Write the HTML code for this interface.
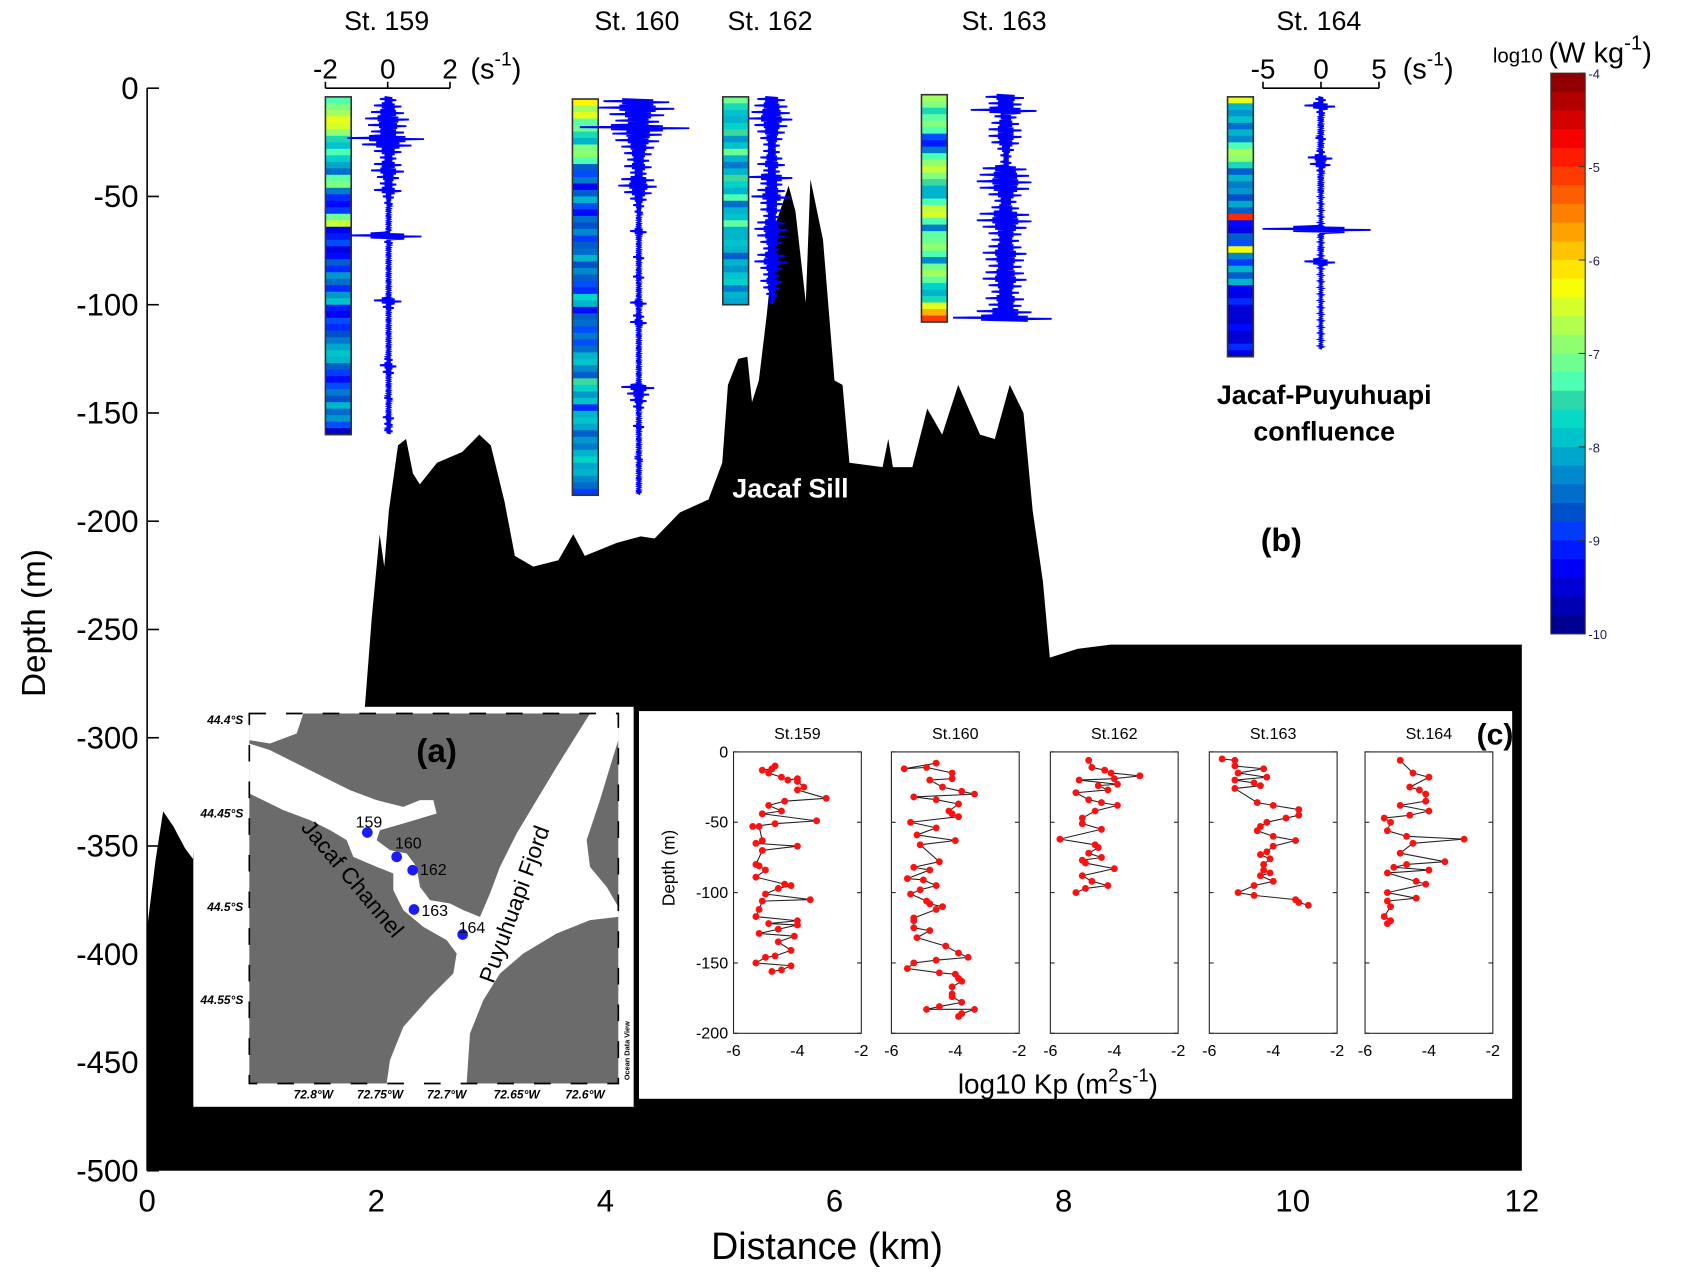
<!DOCTYPE html>
<html><head><meta charset="utf-8"><style>
html,body{margin:0;padding:0;background:#fff;}
svg{display:block;font-family:"Liberation Sans",Arial,sans-serif;}
</style></head><body>
<svg id="fig" width="1684" height="1274" viewBox="0 0 1568 1186" xmlns="http://www.w3.org/2000/svg">
<g id="bathy"></g>
<g id="mainaxes"></g>
<g id="profiles"></g>
<g id="cbar"></g>
<text x="736" y="463" font-size="25" font-weight="bold" fill="#fff" text-anchor="middle">Jacaf Sill</text>
<text x="1233" y="376" font-size="25" font-weight="bold" text-anchor="middle">Jacaf-Puyuhuapi</text>
<text x="1233" y="410" font-size="25" font-weight="bold" text-anchor="middle">confluence</text>
<text x="1193" y="513" font-size="30" font-weight="bold" text-anchor="middle">(b)</text>
<g id="inset" transform="matrix(0.31037,0,0,0.31037,176.9,651.8)">
 <rect x="10" y="20" width="1321" height="1200" fill="#fff"/>
 <rect x="178" y="40" width="1107" height="1110" fill="#6b6b6b"/>
 <path fill="#fff" d="M178,280 L280,330 360,360 420,390 470,420 490,470 560,500 610,520 610,570 640,630 700,680 770,720 800,760 790,820 720,890 640,980 600,1080 590,1150 830,1150 840,1000 880,900 930,820 1000,760 1100,700 1200,660 1285,650 1285,620 1250,560 1200,500 1190,420 1230,300 1260,200 1285,120 1285,40 1200,40 1150,120 1100,200 1040,300 980,400 930,500 900,580 870,650 820,630 780,610 720,600 690,560 680,500 650,460 600,450 560,420 570,390 640,370 740,340 730,300 690,300 640,320 560,300 480,270 400,230 320,190 240,150 178,130 Z"/>
 <path fill="#fff" d="M178,40 L340,40 320,100 240,130 178,120 Z"/>
 <rect x="178" y="40" width="1107" height="1110" fill="none" stroke="#000" stroke-width="5" stroke-dasharray="50,60"/>
 <g font-size="36" font-weight="bold" font-style="italic" text-anchor="end">
  <text x="160" y="72">44.4°S</text>
  <text x="160" y="352">44.45°S</text>
  <text x="160" y="632">44.5°S</text>
  <text x="160" y="912">44.55°S</text>
 </g>
 <g font-size="36" font-weight="bold" font-style="italic" text-anchor="middle">
  <text x="370" y="1195">72.8°W</text>
  <text x="570" y="1195">72.75°W</text>
  <text x="770" y="1195">72.7°W</text>
  <text x="980" y="1195">72.65°W</text>
  <text x="1185" y="1195">72.6°W</text>
 </g>
 <text x="0" y="0" font-size="22" font-weight="bold" transform="translate(1318,1140) rotate(-90)">Ocean Data View</text>
 <text x="740" y="185" font-size="100" font-weight="bold" text-anchor="middle">(a)</text>
 <text font-size="68" text-anchor="middle" transform="translate(470,550) rotate(50)">Jacaf Channel</text>
 <text font-size="68" text-anchor="middle" transform="translate(995,620) rotate(-70)">Puyuhuapi Fjord</text>
 <g id="mapstations"></g>
</g>
<g id="panelc"></g>
</svg>
<script>
// ===== data =====
const bathyKm =    [0,0.075,0.14,0.23,0.33,0.40,0.45,1.88,1.90,1.96,2.03,2.07,2.11,2.19,2.26,2.32,2.38,2.53,2.75,2.90,3.00,3.12,3.21,3.37,3.59,3.72,3.82,4.10,4.31,4.43,4.65,4.90,5.02,5.07,5.16,5.24,5.28,5.34,5.41,5.49,5.60,5.66,5.75,5.79,5.90,6.00,6.07,6.13,6.42,6.47,6.51,6.68,6.81,6.94,7.08,7.27,7.40,7.53,7.65,7.73,7.82,7.88,8.12,8.41,12];
const bathyDepth = [-388,-356,-334,-341,-351,-356,-300,-300,-286,-245,-206,-221,-195,-165,-162,-178,-183,-173,-168,-160,-165,-191,-216,-221,-218,-206,-216,-210,-207,-208,-196,-190,-173,-137,-125,-124,-145,-135,-104,-62,-45,-57,-99,-42,-70,-135,-137,-173,-175,-162,-175,-175,-148,-160,-137,-160,-162,-137,-150,-195,-228,-263,-259,-257,-257];
const xTicks = [0,2,4,6,8,10,12];
const yTicks = [0,-50,-100,-150,-200,-250,-300,-350,-400,-450,-500];

const stationNames = ["St. 159","St. 160","St. 162","St. 163","St. 164"];
const epsTop = [-4,-5,-4,-3,-4];
const binM = 3;
const eps159 = [-7.3,-7.0,-6.8,-6.4,-6.5,-6.9,-7.6,-7.9,-7.3,-7.8,-8.1,-8.5,-7.2,-7.0,-8.4,-9.0,-9.2,-8.9,-7.1,-6.6,-9.3,-9.1,-8.8,-9.4,-9.2,-8.6,-9.0,-8.2,-8.5,-9.0,-8.2,-7.9,-9.1,-9.3,-8.8,-9.0,-8.7,-8.4,-8.1,-7.9,-8.0,-8.6,-8.9,-9.2,-8.8,-8.4,-8.7,-8.0,-8.5,-8.2,-8.8,-9.6];
const eps160 = [-6.2,-6.8,-6.4,-7.2,-7.1,-7.6,-8.0,-7.0,-6.9,-7.3,-8.6,-8.8,-8.4,-9.3,-8.6,-8.0,-8.8,-9.2,-8.5,-8.7,-8.3,-8.9,-8.6,-8.5,-8.0,-8.7,-8.3,-8.6,-8.8,-9.0,-7.8,-8.0,-9.2,-8.6,-8.5,-8.8,-8.4,-8.8,-8.5,-8.0,-7.9,-8.3,-8.6,-7.4,-7.8,-8.2,-7.9,-9.0,-8.0,-7.9,-8.1,-8.6,-8.2,-8.4,-8.0,-7.8,-8.1,-8.0,-8.3,-8.5,-8.9];
const eps162 = [-7.1,-7.6,-7.9,-8.0,-7.8,-7.4,-8.2,-7.9,-7.1,-8.0,-8.4,-8.0,-7.4,-7.8,-8.0,-7.3,-8.5,-8.0,-7.9,-7.2,-8.0,-8.0,-7.9,-8.0,-8.6,-8.0,-8.2,-7.9,-7.8,-8.4,-8.0,-8.1];
const eps163 = [-6.8,-7.0,-7.6,-7.2,-7.0,-7.3,-8.8,-9.1,-8.4,-7.3,-6.9,-6.6,-7.0,-7.4,-8.0,-8.0,-7.3,-6.6,-6.5,-7.3,-8.4,-7.2,-7.1,-6.9,-7.3,-8.3,-7.1,-6.8,-7.2,-7.8,-8.0,-7.6,-6.4,-5.8,-5.1];
const eps164 = [-6.4,-8.0,-8.2,-7.9,-8.5,-8.0,-8.3,-7.3,-6.8,-6.9,-7.6,-8.6,-8.0,-8.4,-8.2,-8.7,-8.1,-8.6,-5.0,-9.2,-9.4,-8.6,-8.8,-6.3,-8.3,-8.9,-8.0,-8.6,-8.0,-9.3,-9.4,-9.0,-9.5,-9.5,-9.5,-9.2,-9.5,-9.5,-9.0,-9.4];
const shear159 = [0.3,0.5,0.6,0.8,0.7,0.6,1.4,0.9,0.5,0.3,0.5,0.6,0.4,0.3,0.5,0.2,0.15,0.1,0.1,0.1,0.1,1.3,0.15,0.1,0.1,0.1,0.1,0.1,0.1,0.1,0.1,0.5,0.2,0.1,0.1,0.1,0.1,0.1,0.1,0.1,0.15,0.3,0.2,0.1,0.1,0.1,0.15,0.1,0.1,0.2,0.15,0.15];
const shear160 = [1.2,1.4,1.0,0.8,2.0,0.9,0.8,0.6,0.5,0.4,0.5,0.3,0.6,0.7,0.5,0.3,0.2,0.15,0.1,0.1,0.3,0.1,0.1,0.1,0.2,0.1,0.1,0.2,0.1,0.1,0.1,0.3,0.1,0.2,0.3,0.1,0.1,0.1,0.1,0.1,0.1,0.1,0.1,0.1,0.6,0.4,0.3,0.2,0.1,0.1,0.2,0.1,0.1,0.1,0.1,0.15,0.1,0.1,0.1,0.1,0.1];
const shear162 = [0.5,0.6,0.7,0.8,0.6,0.5,0.4,0.3,0.3,0.4,0.5,0.3,0.8,0.4,0.5,0.7,0.4,0.4,0.3,0.5,0.6,0.5,0.4,0.3,0.5,0.6,0.4,0.3,0.4,0.3,0.2,0.1];
const shear163 = [0.7,0.6,1.2,0.4,0.5,0.6,0.6,0.5,0.3,0.2,0.2,0.8,0.9,1.0,0.9,0.6,0.4,0.5,0.9,1.0,0.8,0.6,0.5,0.6,0.8,0.7,0.6,0.7,0.8,0.6,0.5,0.7,0.6,1.0,1.8];
const shear164 = [0.5,1.5,0.4,0.3,0.3,0.3,0.5,0.3,0.4,1.2,1.0,0.4,0.3,0.3,0.3,0.2,0.2,0.2,0.2,0.2,5.3,0.3,0.2,0.3,0.2,1.5,0.2,0.2,0.2,0.2,0.2,0.2,0.2,0.2,0.2,0.2,0.2,0.2,0.2];
const cbarTicks = [-4,-5,-6,-7,-8,-9,-10];

const kpNames = ["St.159","St.160","St.162","St.163","St.164"];
const kpTicksX = [-6,-4,-2];
const kpTicksY = [0,-50,-100,-150,-200];
const kp159 = [[-10,-4.7],[-12,-4.8],[-13,-5.1],[-15,-4.9],[-18,-4.5],[-20,-4.3],[-19,-4.0],[-21,-4.0],[-25,-3.8],[-27,-4.0],[-33,-3.1],[-35,-4.4],[-38,-4.9],[-42,-4.5],[-44,-5.1],[-49,-3.4],[-51,-4.7],[-53,-5.4],[-53,-5.2],[-63,-5.1],[-65,-5.3],[-67,-4.0],[-70,-5.1],[-80,-5.3],[-81,-5.2],[-84,-5.0],[-89,-5.3],[-94,-4.4],[-95,-4.2],[-97,-4.6],[-101,-5.0],[-105,-3.6],[-106,-5.1],[-112,-5.2],[-117,-5.3],[-120,-4.0],[-122,-4.9],[-123,-4.0],[-126,-4.6],[-129,-5.2],[-131,-4.1],[-135,-4.6],[-141,-4.2],[-145,-4.7],[-146,-5.0],[-150,-5.3],[-152,-4.2],[-155,-4.5],[-156,-4.8]];
const kp160 = [[-8,-4.6],[-12,-5.6],[-11,-4.9],[-15,-4.1],[-19,-4.1],[-20,-4.8],[-25,-4.4],[-28,-3.8],[-30,-3.4],[-32,-5.3],[-34,-4.6],[-37,-3.9],[-42,-4.2],[-44,-4.1],[-46,-3.9],[-50,-5.4],[-54,-4.6],[-59,-5.2],[-63,-4.0],[-66,-5.1],[-78,-4.5],[-82,-5.3],[-84,-4.8],[-90,-5.5],[-91,-5.0],[-95,-4.6],[-98,-5.1],[-101,-5.4],[-106,-4.9],[-108,-4.8],[-110,-4.4],[-112,-4.6],[-118,-5.3],[-120,-5.3],[-125,-5.3],[-127,-4.8],[-132,-5.2],[-138,-4.3],[-143,-3.9],[-146,-3.6],[-148,-4.6],[-150,-5.3],[-154,-5.5],[-157,-4.5],[-158,-4.0],[-161,-3.9],[-163,-3.8],[-167,-4.1],[-172,-4.1],[-174,-4.1],[-178,-3.8],[-181,-4.5],[-183,-4.9],[-183,-3.4],[-186,-3.8],[-188,-3.9]];
const kp162 = [[-6,-4.8],[-11,-4.7],[-13,-4.3],[-15,-4.1],[-17,-3.2],[-19,-4.0],[-20,-5.1],[-23,-3.9],[-24,-4.5],[-27,-4.2],[-29,-5.2],[-34,-4.8],[-36,-4.4],[-38,-3.9],[-42,-4.6],[-47,-5.0],[-51,-5.0],[-55,-4.4],[-62,-5.7],[-66,-4.6],[-68,-4.5],[-72,-4.8],[-75,-4.4],[-77,-5.0],[-79,-4.9],[-83,-4.0],[-88,-5.0],[-92,-4.7],[-95,-4.2],[-97,-4.9],[-100,-5.2]];
const kp163 = [[-5,-5.6],[-6,-5.2],[-10,-5.2],[-12,-4.3],[-15,-5.1],[-18,-4.2],[-20,-5.2],[-22,-4.6],[-24,-4.4],[-26,-5.2],[-36,-4.5],[-38,-4.0],[-41,-3.2],[-45,-3.2],[-47,-3.6],[-50,-4.2],[-53,-4.4],[-56,-4.5],[-60,-4.0],[-63,-3.3],[-67,-4.0],[-71,-4.2],[-73,-4.4],[-76,-4.1],[-80,-4.3],[-84,-4.3],[-86,-4.1],[-88,-4.4],[-92,-4.0],[-95,-4.6],[-100,-5.1],[-102,-4.6],[-105,-3.3],[-107,-3.2],[-109,-2.9]];
const kp164 = [[-6,-4.9],[-15,-4.5],[-18,-4.0],[-25,-4.6],[-27,-4.3],[-30,-4.1],[-35,-4.1],[-38,-4.9],[-42,-4.0],[-45,-4.6],[-47,-5.4],[-50,-5.2],[-56,-5.3],[-60,-4.7],[-62,-2.9],[-65,-4.5],[-72,-4.9],[-78,-3.5],[-80,-4.7],[-82,-5.1],[-84,-4.0],[-86,-5.3],[-92,-4.4],[-94,-4.1],[-100,-5.3],[-104,-4.4],[-106,-5.3],[-110,-5.2],[-117,-5.4],[-120,-5.2],[-122,-5.3]];
const mapStationLabels = ["159","160","162","163","164"];
const mapStationX = [532,620,668,672,818];
const mapStationY = [397,470,510,628,703];

// ===== helpers =====
const NS="http://www.w3.org/2000/svg";
function mk(tag, parent, attrs){const e=document.createElementNS(NS,tag);for(const k in attrs)e.setAttribute(k,attrs[k]);parent.appendChild(e);return e;}
const X = km => 137 + km*(1417-137)/12;
const Y = d => 82 - d*(1090-82)/500;
function jet(v){let t=(v+10)/6;t=Math.max(0,Math.min(1,t));const c=x=>Math.round(255*Math.max(0,Math.min(1,1.5-Math.abs(4*t-x))));
  let r=c(3),g=c(2),b=c(1);
  // muted teal look of reference in the blue-cyan range
  if(t>0.2&&t<0.45){g=Math.round(g*0.85);b=Math.round(b*0.8);}
  return `rgb(${r},${g},${b})`;}

// ===== bathymetry =====
const bg=document.getElementById('bathy');
let d=`M${X(0)},${Y(-500)}`;
for(let i=0;i<bathyKm.length;i++) d+=` L${X(bathyKm[i]).toFixed(1)},${Y(bathyDepth[i]).toFixed(1)}`;
d+=` L${X(12)},${Y(-500)} Z`;
const bp=mk('path',bg,{d:d,fill:'#000'});



// ===== main axes =====
const ax=document.getElementById('mainaxes');
mk('line',ax,{x1:X(0),y1:Y(0),x2:X(0),y2:Y(-500),stroke:'#000','stroke-width':1.5});
yTicks.forEach(v=>{
  mk('line',ax,{x1:X(0),y1:Y(v),x2:X(0)+11,y2:Y(v),stroke:'#000','stroke-width':1.5});
  const t=mk('text',ax,{x:X(0)-8,y:Y(v)+10,'font-size':29,'text-anchor':'end'});t.textContent=v;
  
  
});
xTicks.forEach(v=>{
  const t=mk('text',ax,{x:X(v),y:1128,'font-size':29,'text-anchor':'middle'});t.textContent=v;
  
  
});
let tt=mk('text',ax,{x:770,y:1172,'font-size':35,'text-anchor':'middle'});tt.textContent='Distance (km)';


tt=mk('text',ax,{x:0,y:0,'font-size':31,'text-anchor':'middle',transform:'translate(42,580) rotate(-90)'});tt.textContent='Depth (m)';



// ===== station profiles =====
const pg=document.getElementById('profiles');
const epsAll=[eps159,eps160,eps162,eps163,eps164];
const shearAll=[shear159,shear160,shear162,shear163,shear164];
const barX=[303,533,673,858,1143];
const traceC=[362,595,719,937,1230];
const shearScale=[29,29,29,29,10.8];
stationNames.forEach((nm,s)=>{
  const g=mk('g',pg,{});
  
  
  const t=mk('text',g,{x:traceC[s]-2,y:28,'font-size':25,'text-anchor':'middle'});t.textContent=nm;
  
  
  const eps=epsAll[s];
  eps.forEach((v,i)=>{
    const y0=Y(epsTop[s]-i*binM), y1=Y(epsTop[s]-(i+1)*binM);
    const r=mk('rect',g,{x:barX[s],y:y0,width:24,height:(y1-y0+0.4),fill:jet(v)});
    
    
  });
  const fr=mk('rect',g,{x:barX[s],y:Y(epsTop[s]),width:24,height:Y(epsTop[s]-eps.length*binM)-Y(epsTop[s]),fill:'none',stroke:'#333','stroke-width':1.5});
  
  
  const sh=shearAll[s];let pts=[];
  sh.forEach((a,i)=>{
    for(let k=0;k<3;k++){
      const dd=epsTop[s]-i*binM-k;const amp=a*(k===1?0.95:0.45)*shearScale[s];
      pts.push(`${(traceC[s]-amp).toFixed(1)},${Y(dd).toFixed(1)}`);
      pts.push(`${(traceC[s]+amp*0.85).toFixed(1)},${Y(dd-0.5).toFixed(1)}`);
    }
  });
  const pl=mk('polyline',g,{points:pts.join(' '),fill:'none',stroke:'#0000ff','stroke-width':1.7});
  
  
});
function shearAxis(c,scale,ticks,lx){
  const g=mk('g',pg,{});
  
  
  mk('line',g,{x1:c+ticks[0]*scale,y1:82,x2:c+ticks[2]*scale,y2:82,stroke:'#000','stroke-width':1.5});
  ticks.forEach(v=>{
    mk('line',g,{x1:c+v*scale,y1:82,x2:c+v*scale,y2:76,stroke:'#000','stroke-width':1.5});
    const t=mk('text',g,{x:c+v*scale,y:73,'font-size':26,'text-anchor':'middle'});t.textContent=v;
    
    
  });
  const u=mk('text',g,{x:lx,y:73,'font-size':27});
  u.innerHTML='(s<tspan font-size="18" dy="-12">-1</tspan><tspan dy="12">)</tspan>';
  
  
}
shearAxis(361,29,[-2,0,2],438);
shearAxis(1230,10.8,[-5,0,5],1306);

// ===== colorbar =====
const cg=document.getElementById('cbar');
const nb=30, cy0=68, cy1=590;
for(let i=0;i<nb;i++){
  const v=-4-(i+0.5)*6/nb;
  const r=mk('rect',cg,{x:1444,y:cy0+i*(cy1-cy0)/nb,width:32,height:(cy1-cy0)/nb+0.5,fill:jet(v)});
  
  
}
mk('rect',cg,{x:1444,y:cy0,width:32,height:cy1-cy0,fill:'none',stroke:'#333','stroke-width':1});
cbarTicks.forEach(v=>{
  const y=cy0+(-4-v)*(cy1-cy0)/6;
  mk('line',cg,{x1:1470,y1:y,x2:1476,y2:y,stroke:'#333'});
  const t=mk('text',cg,{x:1479,y:y+5,'font-size':12,fill:'#202050'});t.textContent=v;
  
  
});
const ct=mk('text',cg,{x:1390,y:58,'font-size':19});
ct.innerHTML='log10 <tspan font-size="27">(W kg<tspan font-size="19" dy="-12">-1</tspan><tspan dy="12">)</tspan></tspan>';



// ===== map stations =====
const ms=document.getElementById('mapstations');
mapStationLabels.forEach((lb,i)=>{
  const c=mk('circle',ms,{cx:mapStationX[i],cy:mapStationY[i],r:16,fill:'#1a1aff'});
  
  
  const offx=[-35,-5,22,22,-12][i], offy=[-15,-25,15,20,-5][i];
  const t=mk('text',ms,{x:mapStationX[i]+offx,y:mapStationY[i]+offy,'font-size':48});t.textContent=lb;
  
  
});

// ===== panel c =====
const pc=document.getElementById('panelc');
const bgc=mk('rect',pc,{x:595,y:662,width:813,height:361,fill:'#fff'});


const kpAll=[kp159,kp160,kp162,kp163,kp164];
const boxL=[683,830,978,1126,1271], boxW=119, pTop=700, pBot=962;
const KX=(s,v)=>boxL[s]+(v+6)/4*boxW;
const KY=dv=>pTop+(-dv)/200*(pBot-pTop);
kpNames.forEach((nm,s)=>{
  const g=mk('g',pc,{});
  
  
  mk('rect',g,{x:boxL[s],y:pTop,width:boxW,height:pBot-pTop,fill:'none',stroke:'#222','stroke-width':1});
  kpTicksY.forEach(v=>{
    mk('line',g,{x1:boxL[s],y1:KY(v),x2:boxL[s]+4,y2:KY(v),stroke:'#222'});
    mk('line',g,{x1:boxL[s]+boxW,y1:KY(v),x2:boxL[s]+boxW-4,y2:KY(v),stroke:'#222'});
  });
  kpTicksX.forEach(v=>{
    const t=mk('text',g,{x:KX(s,v),y:983,'font-size':15,'text-anchor':'middle'});t.textContent=v;
    
    
  });
  const t=mk('text',g,{x:boxL[s]+boxW/2,y:688,'font-size':15,'text-anchor':'middle'});t.textContent=nm;
  
  
  const data=kpAll[s];
  const pl=mk('polyline',g,{points:data.map(p=>`${KX(s,p[1]).toFixed(1)},${KY(p[0]).toFixed(1)}`).join(' '),fill:'none',stroke:'#222','stroke-width':1});
  
  
  data.forEach(p=>{
    const c=mk('circle',g,{cx:KX(s,p[1]),cy:KY(p[0]),r:3.2,fill:'#ff1010'});
    
    
  });
});
kpTicksY.forEach(v=>{
  const t=mk('text',pc,{x:678,y:KY(v)+5,'font-size':15,'text-anchor':'end'});t.textContent=v;
  
  
});
let kt=mk('text',pc,{x:0,y:0,'font-size':16,'text-anchor':'middle',transform:'translate(628,808) rotate(-90)'});kt.textContent='Depth (m)';


kt=mk('text',pc,{x:985,y:1018,'font-size':26,'text-anchor':'middle'});
kt.innerHTML='log10 Kp (m<tspan font-size="17" dy="-11">2</tspan><tspan dy="11">s</tspan><tspan font-size="17" dy="-11">-1</tspan><tspan dy="11">)</tspan>';


kt=mk('text',pc,{x:1392,y:693,'font-size':28,'font-weight':'bold','text-anchor':'middle'});kt.textContent='(c)';


</script>
</body></html>
